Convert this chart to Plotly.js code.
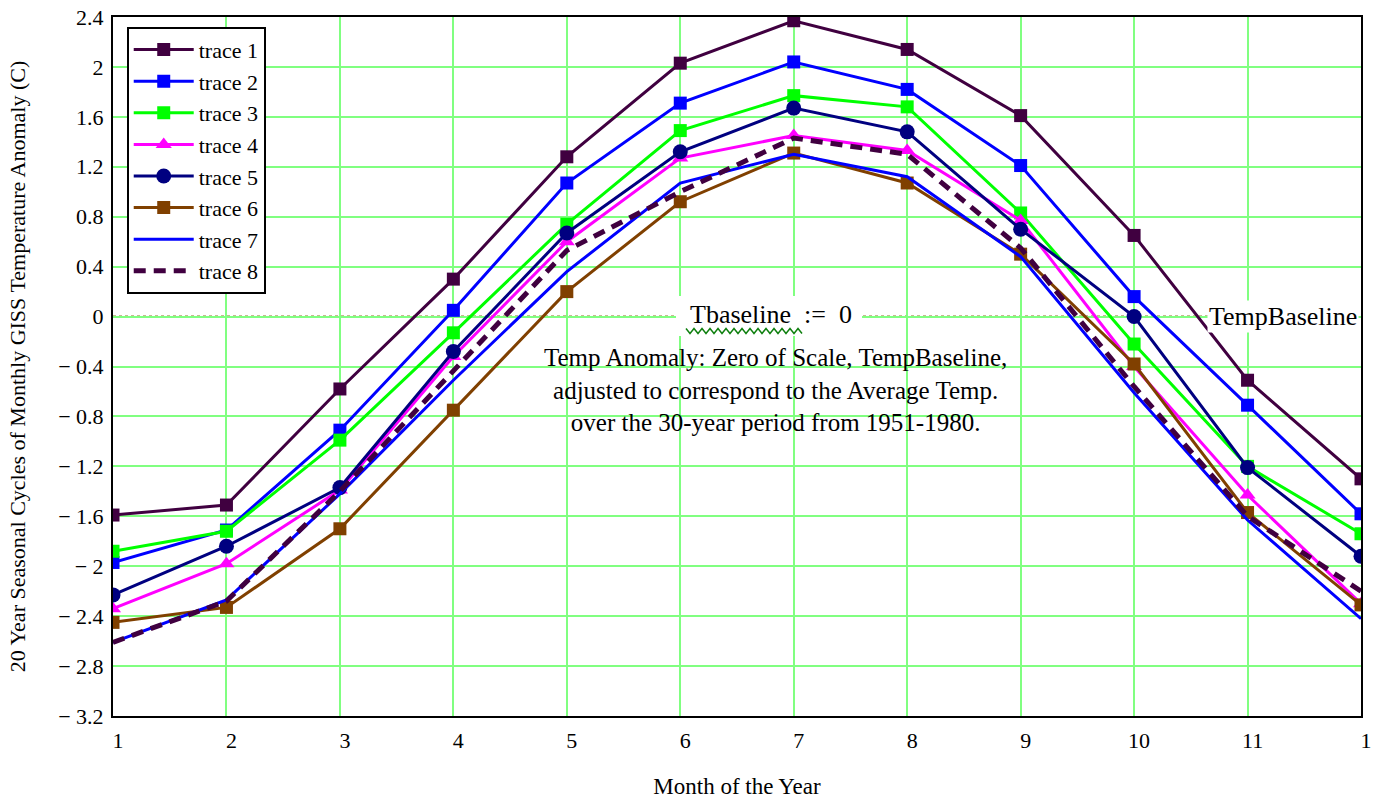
<!DOCTYPE html>
<html>
<head>
<meta charset="utf-8">
<script src="https://cdn.plot.ly/plotly-3.0.1.min.js"></script>
<style>html,body{margin:0;padding:0;background:#fff;}#chart{width:1378px;height:799px;}</style>
</head>
<body>
<div id="chart"></div>
<script>
const months = [1,2,3,4,5,6,7,8,9,10,11,12];
const monthLabels = ["1","2","3","4","5","6","7","8","9","10","11","1"];
const yTickVals = [2.4,2,1.6,1.2,0.8,0.4,0,-0.4,-0.8,-1.2,-1.6,-2,-2.4,-2.8,-3.2];
const yTickText = ["2.4","2","1.6","1.2","0.8","0.4","0","\u2212 0.4","\u2212 0.8","\u2212 1.2","\u2212 1.6","\u2212 2","\u2212 2.4","\u2212 2.8","\u2212 3.2"];
const traceNames = ["trace 1","trace 2","trace 3","trace 4","trace 5","trace 6","trace 7","trace 8"];

const trace1 = [-1.59,-1.51,-0.58,0.30,1.28,2.03,2.37,2.14,1.61,0.65,-0.51,-1.30];
const trace2 = [-1.97,-1.71,-0.91,0.05,1.07,1.71,2.04,1.82,1.21,0.16,-0.71,-1.58];
const trace3 = [-1.88,-1.72,-0.99,-0.13,0.74,1.49,1.77,1.68,0.83,-0.22,-1.20,-1.74];
const trace4 = [-2.34,-1.98,-1.39,-0.32,0.60,1.27,1.45,1.33,0.77,-0.40,-1.43,-2.30];
const trace5 = [-2.23,-1.84,-1.37,-0.28,0.67,1.32,1.67,1.48,0.70,0.00,-1.21,-1.92];
const trace6 = [-2.45,-2.33,-1.70,-0.75,0.20,0.92,1.31,1.07,0.50,-0.38,-1.57,-2.31];
const trace7 = [-2.61,-2.27,-1.42,-0.51,0.36,1.07,1.30,1.12,0.48,-0.61,-1.63,-2.42];
const trace8 = [-2.61,-2.28,-1.40,-0.43,0.53,1.00,1.43,1.30,0.55,-0.56,-1.60,-2.20];

const seriesList = [trace1,trace2,trace3,trace4,trace5,trace6,trace7,trace8];
const styles = [
  {color:'#400040', symbol:'square', size:13, mode:'lines+markers', width:3, dash:'solid'},
  {color:'#0000FF', symbol:'square', size:13, mode:'lines+markers', width:3, dash:'solid'},
  {color:'#00FF00', symbol:'square', size:13, mode:'lines+markers', width:3, dash:'solid'},
  {color:'#FF00FF', symbol:'triangle-up', size:14, mode:'lines+markers', width:3, dash:'solid'},
  {color:'#000080', symbol:'circle', size:15, mode:'lines+markers', width:3, dash:'solid'},
  {color:'#804000', symbol:'square', size:13, mode:'lines+markers', width:3, dash:'solid'},
  {color:'#0000FF', symbol:'square', size:1, mode:'lines', width:3, dash:'solid'},
  {color:'#400040', symbol:'square', size:1, mode:'lines', width:5, dash:'12px,8px'}
];

const FONT = 'Liberation Serif, Times New Roman, serif';

const data = seriesList.map((ys, i) => {
  const s = styles[i];
  return {
    x: months, y: ys, name: traceNames[i], type: 'scatter', mode: s.mode,
    line: {color: s.color, width: s.width, dash: s.dash},
    marker: {symbol: s.symbol, size: s.size, color: s.color}
  };
});

// helpers: pixel -> paper coordinates (plot area 113..1361 x 17..716)
const px2x = px => (px - 113) / 1248;
const px2y = py => (716 - py) / 699;

// squiggly underline under "Tbaseline"
const xa0 = 686, xa1 = 804, yb = 331, amp = 2.5, step = 4;
let path = '';
for (let px = xa0, k = 0; px <= xa1; px += step, k++) {
  const py = yb + (k % 2 === 0 ? -amp : amp);
  path += (k === 0 ? 'M ' : ' L ') + px2x(px).toFixed(5) + ' ' + px2y(py).toFixed(5);
}

const layout = {
  width: 1378, height: 799,
  margin: {l: 113, r: 17, t: 17, b: 83},
  paper_bgcolor: '#fff', plot_bgcolor: '#fff',
  font: {family: FONT, size: 22, color: '#000'},
  showlegend: true,
  legend: {
    x: 0.011, y: 0.986, xanchor: 'left', yanchor: 'top',
    bgcolor: '#fff', bordercolor: '#000', borderwidth: 2,
    font: {family: FONT, size: 22, color: '#000'},
    tracegroupgap: 0, itemwidth: 60
  },
  xaxis: {
    range: [1, 12], tickmode: 'array', tickvals: months, ticktext: monthLabels,
    showgrid: true, gridcolor: '#80FF80', gridwidth: 2,
    zeroline: false, showline: true, linecolor: '#000', linewidth: 2, mirror: true,
    ticks: '', ticklabelshift: 5, ticklabelstandoff: 4,
    tickfont: {family: FONT, size: 22, color: '#000'},
    title: {text: 'Month of the Year', font: {family: FONT, size: 23, color: '#000'}, standoff: 35}
  },
  yaxis: {
    range: [-3.2, 2.4], tickmode: 'array', tickvals: yTickVals, ticktext: yTickText,
    showgrid: true, gridcolor: '#80FF80', gridwidth: 2,
    zeroline: false, showline: true, linecolor: '#000', linewidth: 2, mirror: true,
    ticks: '', ticklabelstandoff: 3,
    tickfont: {family: FONT, size: 22, color: '#000'},
    title: {text: '20 Year Seasonal Cycles of Monthly GISS Temperature Anomaly (C)', font: {family: FONT, size: 22, color: '#000'}, standoff: 26}
  },
  shapes: [
    {type: 'line', xref: 'paper', yref: 'y', x0: 0, x1: 1, y0: 0, y1: 0, layer: 'below',
     line: {color: '#8c7424', width: 2, dash: 'dot'}},
    {type: 'rect', xref: 'paper', yref: 'paper', x0: px2x(676), x1: px2x(862), y0: px2y(336), y1: px2y(296),
     fillcolor: '#fff', line: {width: 0}, layer: 'above'},
    {type: 'path', xref: 'paper', yref: 'paper', path: path, line: {color: '#108010', width: 1.5}, layer: 'above'}
  ],
  annotations: [
    {xref: 'paper', yref: 'y', x: px2x(686), y: 0, xanchor: 'left', yanchor: 'middle', yshift: 2,
     text: 'Tbaseline&nbsp;&nbsp;:=&nbsp;&nbsp;0', showarrow: false, borderpad: 3,
     font: {family: FONT, size: 26, color: '#000'}},
    {xref: 'paper', yref: 'y', x: 0.998, y: 0, xanchor: 'right', yanchor: 'middle',
     text: 'TempBaseline', showarrow: false, bgcolor: '#fff', borderpad: 1,
     font: {family: FONT, size: 26, color: '#000'}},
    {xref: 'paper', yref: 'paper', x: 0.531, y: 0.466, xanchor: 'center', yanchor: 'middle',
     text: 'Temp Anomaly: Zero of Scale, TempBaseline,<br>adjusted to correspond to the Average Temp.<br>over the 30-year period from 1951-1980.',
     showarrow: false, align: 'center',
     font: {family: FONT, size: 25, color: '#000'}}
  ]
};

Plotly.newPlot('chart', data, layout, {displayModeBar: false, responsive: false});
</script>
</body>
</html>
